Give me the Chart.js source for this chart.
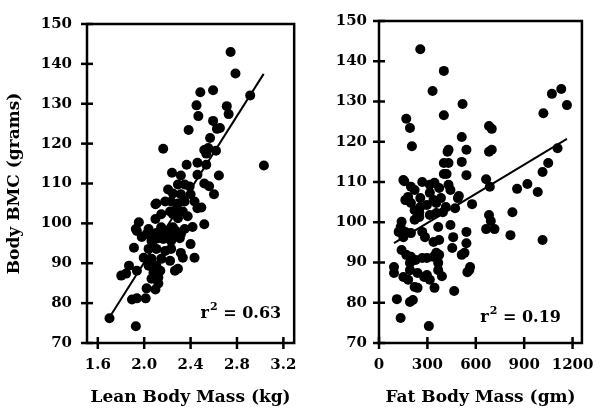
<!DOCTYPE html>
<html><head><meta charset="utf-8">
<script src="https://cdn.jsdelivr.net/npm/chart.js@4.4.0/dist/chart.umd.min.js"></script>
<style>
html,body{margin:0;padding:0;background:#fff;}
#wrap{position:relative;width:607px;height:413px;overflow:hidden;}
.c{position:absolute;top:0;height:413px;}
#c1{left:0;width:310px;}
#c2{left:300px;width:307px;}
</style></head><body>
<div id="wrap"><div class="c" id="c1"><canvas id="a" width="310" height="413"></canvas></div><div class="c" id="c2"><canvas id="b" width="307" height="413"></canvas></div></div>
<script>
const yTicks=[70,80,90,100,110,120,130,140,150];
const leanTicks=[1.6,2.0,2.4,2.8,3.2];
const fatTicks=[0,300,600,900,1200];

const leanX=[2.745,2.787,2.484,2.594,2.451,2.467,2.712,2.728,2.594,2.914,2.383,2.653,2.627,2.568,2.164,2.518,2.552,2.535,2.619,2.366,2.459,2.535,3.032,2.240,2.316,2.459,2.644,2.518,2.560,2.602,
2.206,2.291,2.349,2.392,2.248,2.316,2.400,2.434,2.105,2.181,2.232,2.291,2.349,2.459,2.223,2.265,2.333,2.147,2.097,2.291,2.375,1.954,1.928,2.038,2.147,2.248,2.274,2.349,2.417,2.518,1.979,2.080,2.122,2.223,2.307,2.097,2.493,2.248,
1.937,2.021,2.105,2.181,2.248,2.316,2.063,2.164,2.232,2.400,1.912,2.038,2.105,2.181,2.232,2.316,2.333,2.434,1.996,2.063,2.147,2.223,2.105,2.038,1.869,1.937,1.802,1.844,2.080,2.139,2.265,2.291,2.063,2.122,2.021,2.097,2.122,1.895,1.937,2.013,1.701,1.928];
const leanY=[143.0,137.6,132.9,133.4,129.6,126.9,129.4,127.4,125.7,132.1,123.4,123.9,123.7,121.4,118.7,118.4,118.9,117.5,118.2,114.7,115.2,114.7,114.5,112.7,112.0,112.2,112.0,110.0,109.3,107.3,
108.5,109.75,109.75,109.25,107.5,107.3,107.3,105.5,105.0,105.5,105.5,105.0,105.5,103.8,103.0,103.2,103.0,102.3,101.1,101.3,101.8,100.3,98.6,98.6,99.0,99.0,98.1,98.6,99.1,99.8,96.6,97.3,96.3,96.3,96.3,104.8,104.0,102.3,
98.1,97.3,97.6,98.1,97.6,97.3,95.6,96.1,95.6,94.8,93.9,93.6,93.6,93.1,93.6,92.6,91.4,91.4,91.4,91.1,91.1,90.6,89.4,89.4,89.4,88.1,86.9,87.4,87.6,88.1,88.1,88.6,86.1,86.4,83.7,83.4,84.9,80.9,81.2,81.2,76.2,74.2];

const fatX=[256,402,332,518,402,169,192,204,513,682,699,431,425,542,682,699,402,431,513,402,419,542,664,687,1019,1072,1130,1165,1107,1049,1014,920,856,984,157,268,495,577,827,682,693,664,716,815,1014,542,542,530,565,
367,443,460,454,513,559,548,466,338,373,367,367,297,315,344,239,210,192,111,134,309,93,93,151,181,221,140,169,198,227,268,297,338,355,192,192,239,280,151,163,122,134,140,198,268,285,221,250,315,355,396,256,297,355,414,472,198,221,250,151,198,221,181,163,315,344,373,431,443,315,338,384,256,489,390,373];
const fatY=[143.0,137.6,132.6,129.4,126.6,125.7,123.4,118.9,121.2,123.9,123.2,118.0,117.5,118.0,117.5,118.0,114.7,114.7,115.0,112.0,112.0,111.7,110.7,108.8,127.1,131.9,133.1,129.1,118.4,114.7,112.5,109.5,108.3,107.5,110.2,110.0,106.5,104.5,102.5,101.8,100.3,98.3,98.3,96.8,95.6,97.6,94.8,92.4,88.9,
98.8,99.3,96.3,93.6,91.9,88.1,87.6,82.9,95.1,91.9,89.9,88.1,86.9,85.7,83.7,83.7,80.7,80.2,80.9,76.2,74.2,88.9,87.4,86.4,85.7,83.9,93.1,91.9,91.4,90.6,91.1,91.1,91.4,92.4,89.9,88.1,87.4,86.4,96.3,97.6,97.6,98.8,100.1,97.3,97.6,96.3,100.6,101.3,101.8,102.3,102.5,103.8,104.3,104.8,103.8,103.5,104.8,103.0,102.5,110.5,108.8,108.0,106.3,105.5,109.3,109.8,108.5,109.3,108.0,107.3,105.5,106.0,106.0,106.0,86.6,95.6];

const leanFitX=[1.70,3.03], leanFitY=[76.4,137.5];
const fatFitX=[93,1165], fatFitY=[94.8,120.7];
const leanR2="0.63", fatR2="0.19";

const FONT="'DejaVu Serif', serif";

function makeFrame(r2, r2Right, r2Base){
  return {id:'frame',afterDatasetsDraw(chart){
    const {ctx,chartArea:a,scales:{x,y}}=chart;
    ctx.save();
    ctx.strokeStyle='#000';ctx.lineWidth=2.5;
    ctx.strokeRect(a.left,a.top,a.right-a.left,a.bottom-a.top);
    y.ticks.forEach(t=>{const p=y.getPixelForValue(t.value);ctx.beginPath();ctx.moveTo(a.left-6,p);ctx.lineTo(a.left+6,p);ctx.stroke();});
    x.ticks.forEach(t=>{const p=x.getPixelForValue(t.value);ctx.beginPath();ctx.moveTo(p,a.bottom-6);ctx.lineTo(p,a.bottom+6);ctx.stroke();});
    ctx.fillStyle='#000';ctx.textBaseline='alphabetic';ctx.textAlign='left';
    const big="bold 16px "+FONT, small="bold 11px "+FONT;
    ctx.font=big;const w1=ctx.measureText('r').width;const w3=ctx.measureText(' = '+r2).width;
    ctx.font=small;const w2=ctx.measureText('2').width;
    let sx=a.right-r2Right-(w1+w2+w3);
    const by=a.bottom-r2Base;
    ctx.font=big;ctx.fillText('r',sx,by);
    ctx.font=small;ctx.fillText('2',sx+w1+1,by-8);
    ctx.font=big;ctx.fillText(' = '+r2,sx+w1+w2+1,by);
    ctx.restore();
  }};
}

function make(id,xs,ys,fx,fy,xt,xmin,xmax,dec,xTitle,showYTitle,yW,padR,ypad,r2,r2Right,r2Base){
  const pts=xs.map((v,i)=>({x:v,y:ys[i]}));
  const fit=fx.map((v,i)=>({x:v,y:fy[i]}));
  new Chart(document.getElementById(id),{
    type:'scatter',
    data:{datasets:[
      {data:pts,pointRadius:5,pointHoverRadius:5,backgroundColor:'#000',borderColor:'#000',borderWidth:0},
      {type:'line',data:fit,borderColor:'#000',borderWidth:2,pointRadius:0,fill:false,tension:0}
    ]},
    options:{responsive:false,animation:false,devicePixelRatio:1,
      layout:{padding:{top:21,right:padR,left:0,bottom:0}},
      plugins:{legend:{display:false},tooltip:{enabled:false}},
      scales:{
        x:{type:'linear',min:xmin,max:xmax,
          afterBuildTicks:s=>{s.ticks=xt.map(v=>({value:v}));},
          afterFit:s=>{s.height=70;},
          grid:{display:false,drawTicks:false},border:{display:false},
          ticks:{color:'#000',autoSkip:false,maxRotation:0,padding:13,font:{family:FONT,size:15,weight:'bold'},callback:v=>Number(v).toFixed(dec)},
          title:{display:true,text:xTitle,color:'#000',font:{family:FONT,size:17,weight:'bold'},padding:{top:0,bottom:5}}
        },
        y:{type:'linear',min:70,max:150,
          afterBuildTicks:s=>{s.ticks=yTicks.map(v=>({value:v}));},
          afterFit:s=>{s.width=yW;},
          grid:{display:false,drawTicks:false},border:{display:false},
          ticks:{color:'#000',autoSkip:false,padding:ypad,font:{family:FONT,size:15,weight:'bold'}},
          title:{display:showYTitle,text:'Body BMC (grams)',color:'#000',font:{family:FONT,size:17,weight:'bold'},padding:{top:4,bottom:0}}
        }
      }
    },
    plugins:[makeFrame(r2,r2Right,r2Base)]
  });
}

make('a',leanX,leanY,leanFitX,leanFitY,leanTicks,1.507,3.293,1,'Lean Body Mass (kg)',true,87,11,15,leanR2,14,25);
make('b',fatX,fatY,fatFitX,fatFitY,fatTicks,0,1258,0,'Fat Body Mass (gm)',false,79,12,12,fatR2,22,21);
</script>
</body></html>
